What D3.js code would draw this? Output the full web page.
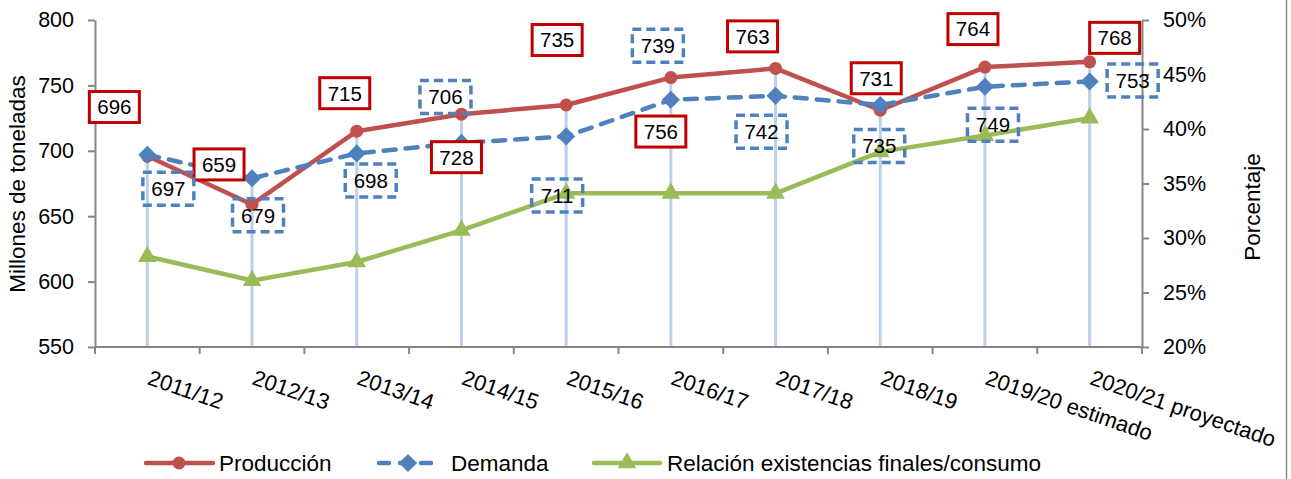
<!DOCTYPE html>
<html>
<head>
<meta charset="utf-8">
<title>Producción y demanda</title>
<script src="https://d3js.org/d3.v7.min.js"></script>
<style>
	body { margin: 0; background: #fff; }
	text { font-family: "Liberation Sans", Arial, sans-serif; fill: #000; }
</style>
</head>
<body>
<svg width="1291" height="479"></svg>
<script>
	// data
	let categories = ["2011/12", "2012/13", "2013/14", "2014/15", "2015/16",
		"2016/17", "2017/18", "2018/19", "2019/20 estimado", "2020/21 proyectado"];
	let produccion = [696, 659, 715, 728, 735, 756, 763, 731, 764, 768];
	let demanda = [697, 679, 698, 706, 711, 739, 742, 735, 749, 753];
	let relacion = [28.3, 26.1, 27.8, 30.7, 34.1, 34.1, 34.1, 37.9, 39.4, 41.0];
	let leftTicks = [550, 600, 650, 700, 750, 800];
	let rightTicks = [20, 25, 30, 35, 40, 45, 50];
	let seriesNames = ["Producción", "Demanda", "Relación existencias finales/consumo"];

	// the data labels were dragged by hand in the original, so keep their offsets (px)
	let prodLabelShift = [[-33, -49], [-33, -40], [-12, -38], [-5, 43], [-9, -65],
		[-10, 54], [-23, -32], [-4, -32], [-12, -38], [25, -24]];
	let demLabelShift = [[21, 34], [6, 37], [14, 27], [-16, -46], [-9, 59],
		[-13, -54], [-14, 36], [-1, 41], [8, 38], [43, -1]];

	let svg = d3.select("svg");
	let m = { left: 95, right: 1142, top: 20, bottom: 347 };
	let red = "#C0504D", blue = "#4F81BD", green = "#9BBB59", axisCol = "#868686";

	let x = d3.scaleBand().domain(categories).range([m.left, m.right]);
	let cx = c => x(c) + x.bandwidth() / 2;
	let yL = d3.scaleLinear().domain([550, 800]).range([m.bottom, m.top]);
	let yR = d3.scaleLinear().domain([20, 50]).range([m.bottom, m.top]);

	// chart border on the right
	svg.append("line").attr("x1", 1286.5).attr("x2", 1286.5).attr("y1", 0).attr("y2", 479)
		.style("stroke", "#8c8c8c").style("stroke-width", 1.5);

	// drop lines
	svg.append("g").selectAll("line").data(categories).enter().append("line")
		.attr("x1", d => cx(d)).attr("x2", d => cx(d))
		.attr("y1", (d, i) => yL(Math.max(produccion[i], demanda[i])))
		.attr("y2", m.bottom)
		.style("stroke", "#BCCFEC").style("stroke-width", 3);

	// axes
	let axL = svg.append("g").attr("transform", `translate(${m.left},0)`)
		.call(d3.axisLeft(yL).tickValues(leftTicks).tickSize(7).tickSizeOuter(0).tickPadding(14));
	let axR = svg.append("g").attr("transform", `translate(${m.right},0)`)
		.call(d3.axisRight(yR).tickValues(rightTicks).tickSize(7).tickSizeOuter(0).tickPadding(14)
			.tickFormat(d => d + "%"));
	[axL, axR].forEach(a => {
		a.selectAll("path, line").style("stroke", axisCol).style("stroke-width", 2);
		a.selectAll("text").style("font-size", "21.5px").style("font-family", "Liberation Sans, Arial, sans-serif");
	});

	let xAxis = svg.append("g");
	xAxis.append("line").attr("x1", m.left).attr("x2", m.right).attr("y1", m.bottom).attr("y2", m.bottom)
		.style("stroke", axisCol).style("stroke-width", 2);
	xAxis.selectAll(".tk").data(d3.range(categories.length + 1)).enter().append("line")
		.attr("x1", i => m.left + i * x.step()).attr("x2", i => m.left + i * x.step())
		.attr("y1", m.bottom).attr("y2", m.bottom + 7)
		.style("stroke", axisCol).style("stroke-width", 2);
	xAxis.selectAll("text").data(categories).enter().append("text")
		.attr("transform", d => `translate(${cx(d) - 1},384) rotate(19)`)
		.style("font-size", "22px")
		.text(d => d);

	// axis titles
	svg.append("text").attr("transform", "translate(25,184) rotate(-90)")
		.attr("text-anchor", "middle").style("font-size", "22.5px").text("Millones de toneladas");
	svg.append("text").attr("transform", "translate(1260,207) rotate(-90)")
		.attr("text-anchor", "middle").style("font-size", "22.5px").text("Porcentaje");

	// lines
	let lineL = d3.line().x((d, i) => cx(categories[i])).y(d => yL(d));
	let lineR = d3.line().x((d, i) => cx(categories[i])).y(d => yR(d));

	svg.append("path").datum(produccion).attr("d", lineL)
		.style("fill", "none").style("stroke", red).style("stroke-width", 4.5).style("stroke-linejoin", "round");
	svg.append("g").selectAll("circle").data(produccion).enter().append("circle")
		.attr("cx", (d, i) => cx(categories[i])).attr("cy", d => yL(d)).attr("r", 6.5)
		.style("fill", red);

	svg.append("path").datum(demanda).attr("d", lineL)
		.style("fill", "none").style("stroke", blue).style("stroke-width", 4.5)
		.style("stroke-dasharray", "12,10").style("stroke-linecap", "round");
	let diamond = d3.symbol().type(d3.symbolSquare).size(165);
	svg.append("g").selectAll("path").data(demanda).enter().append("path")
		.attr("d", diamond)
		.attr("transform", (d, i) => `translate(${cx(categories[i])},${yL(d)}) rotate(45)`)
		.style("fill", blue);

	svg.append("path").datum(relacion).attr("d", lineR)
		.style("fill", "none").style("stroke", green).style("stroke-width", 4.5).style("stroke-linejoin", "round");
	let tri = d3.symbol().type(d3.symbolTriangle).size(150);
	svg.append("g").selectAll("path").data(relacion).enter().append("path")
		.attr("d", tri)
		.attr("transform", (d, i) => `translate(${cx(categories[i])},${yR(d)})`)
		.style("fill", green);

	// data labels
	function addLabels(values, shift, boxStyle, w, h)
	{
		let g = svg.append("g").selectAll("g").data(values).enter().append("g")
			.attr("transform", (d, i) => `translate(${cx(categories[i]) + shift[i][0]},${yL(d) + shift[i][1]})`);
		let r = g.append("rect").attr("x", -w / 2).attr("y", -h / 2).attr("width", w).attr("height", h);
		boxStyle(r);
		g.append("text").attr("text-anchor", "middle").attr("dy", "0.36em")
			.style("font-size", "20.5px").text(d => d);
	}
	addLabels(produccion, prodLabelShift, r => r.style("fill", "#fff").style("stroke", "#C00000").style("stroke-width", 3), 50, 31);
	addLabels(demanda, demLabelShift, r => r.style("fill", "none").style("stroke", blue).style("stroke-width", 3.5)
		.style("stroke-dasharray", "9,5"), 51, 33);

	// legend
	let ly = 463;
	let leg = svg.append("g");
	leg.append("line").attr("x1", 146).attr("x2", 213).attr("y1", ly).attr("y2", ly)
		.style("stroke", red).style("stroke-width", 4.5).style("stroke-linecap", "round");
	leg.append("circle").attr("cx", 179).attr("cy", ly).attr("r", 6.5).style("fill", red);
	leg.append("line").attr("x1", 379).attr("x2", 437).attr("y1", ly).attr("y2", ly)
		.style("stroke", blue).style("stroke-width", 4.5).style("stroke-linecap", "round")
		.style("stroke-dasharray", "10,11");
	leg.append("path").attr("d", diamond).attr("transform", `translate(408,${ly}) rotate(45)`).style("fill", blue);
	leg.append("line").attr("x1", 594).attr("x2", 660).attr("y1", ly).attr("y2", ly)
		.style("stroke", green).style("stroke-width", 4.5).style("stroke-linecap", "round");
	leg.append("path").attr("d", tri).attr("transform", `translate(627,${ly})`).style("fill", green);
	leg.selectAll("text").data(seriesNames).enter().append("text")
		.attr("x", (d, i) => [219, 451, 667][i]).attr("y", ly).attr("dy", "0.36em")
		.style("font-size", "22.5px").text(d => d);
</script>
</body>
</html>
